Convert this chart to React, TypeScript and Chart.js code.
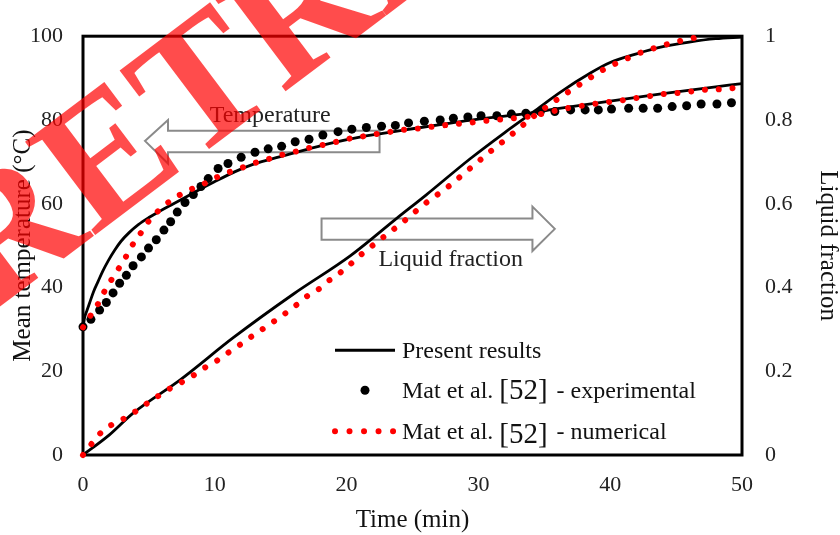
import React, { useEffect, useRef } from 'react';
import { Chart, registerables } from 'chart.js';

Chart.register(...registerables);

// ---------- data ----------
const xTicks = [0, 10, 20, 30, 40, 50];
const tempTicks = [0, 20, 40, 60, 80, 100];
const fracTicks = [0, 0.2, 0.4, 0.6, 0.8, 1];

// Present results – mean temperature (°C)
const presentTempTime = [0, 0.1, 0.3, 0.5, 0.8, 1.14, 1.5, 1.9, 2.4, 2.9, 3.5, 4.2, 5, 5.7, 6.5, 7.4, 8.5, 9.9, 11.5, 13, 14.9, 17, 19, 21, 22.5, 25, 28, 30, 32, 34, 36, 40, 44, 48, 50];
const presentTemp = [30, 32.5, 34.5, 36.3, 39, 41.4, 43.9, 46.3, 48.9, 51.1, 53.1, 55.0, 56.7, 58.0, 59.4, 60.9, 62.8, 65.1, 67.6, 69.5, 71.2, 73, 74.6, 75.9, 76.7, 77.9, 79.3, 80.2, 80.9, 81.7, 82.7, 84.5, 86.3, 87.9, 88.7];

// Present results – liquid fraction
const presentFracTime = [0, 2, 3.8, 7.4, 11.4, 16, 20.3, 23.8, 26, 29.4, 32, 34.2, 36.2, 38.5, 40, 42, 44, 46, 48, 50];
const presentFrac = [0, 0.048, 0.1, 0.18, 0.28, 0.385, 0.476, 0.565, 0.62, 0.708, 0.77, 0.82, 0.866, 0.912, 0.937, 0.958, 0.975, 0.986, 0.994, 0.998];

// Mat et al. [52] – experimental temperature
const expTime = [0, 0.6, 1.26, 1.77, 2.28, 2.78, 3.29, 3.8, 4.43, 4.97, 5.56, 6.14, 6.65, 7.15, 7.74, 8.37, 8.95, 9.5, 10.25, 11, 12, 13.05, 14.05, 15.07, 16.1, 17.15, 18.2, 19.35, 20.4, 21.5, 22.65, 23.7, 24.7, 25.9, 27.1, 28.1, 29.2, 30.2, 31.4, 32.5, 33.6, 34.7, 35.8, 37, 38.1, 39.1, 40.1, 41.4, 42.5, 43.6, 44.7, 45.8, 46.9, 48.1, 49.2];
const expTemp = [30.6, 32.4, 34.6, 36.4, 38.7, 41, 42.9, 45.2, 47.3, 49.4, 51.4, 53.7, 55.7, 58, 60.3, 62.2, 64.1, 66, 68.4, 69.6, 71.1, 72.3, 73.1, 73.7, 74.8, 75.4, 76.4, 77.2, 77.8, 78.2, 78.5, 78.7, 79.3, 79.7, 80, 80.4, 80.7, 81, 81, 81.4, 81.6, 82, 82, 82.4, 82.4, 82.4, 82.6, 82.8, 82.8, 82.8, 83.2, 83.4, 83.8, 83.8, 84.1];

// Mat et al. [52] – numerical temperature
const numTempTime = [0, 0.63, 1.14, 1.6, 2.15, 2.7, 3.23, 3.7, 4.3, 4.88, 5.56, 6.3, 7.23, 8.1, 9.08, 10, 10.9, 11.9, 12.9, 13.9, 14.9, 15.96, 17, 18, 19, 20, 21.1, 22.2, 23.2, 24.2, 25.3, 26.3, 27.3, 28.5, 29.5, 30.5, 31.6, 32.6, 33.8, 35.7, 36.7, 37.7, 38.7, 39.9, 40.9, 41.9, 43, 44, 45, 46.1, 47.2, 48.2, 49.3, 50];
const numTemp = [30.5, 33.6, 36.1, 38.9, 41.8, 44.5, 47.2, 49.9, 52.6, 55.4, 57.8, 59.9, 61.9, 63.3, 64.6, 66.1, 67.3, 68.4, 69.6, 70.5, 71.5, 72.3, 73.2, 73.9, 74.6, 75.4, 76, 76.6, 77.1, 77.6, 77.9, 78.3, 78.7, 79.1, 79.4, 79.8, 80.1, 80.4, 80.8, 82.1, 82.8, 83.3, 83.8, 84.3, 84.7, 85.2, 85.7, 86.2, 86.4, 86.8, 87.2, 87.3, 87.6, 87.8];

// Mat et al. [52] – numerical liquid fraction
const numFracTime = [0, 0.66, 1.29, 2.17, 3.05, 3.94, 4.8, 5.67, 6.55, 7.5, 8.37, 9.26, 10.1, 11, 11.9, 12.7, 13.55, 14.4, 15.25, 16.1, 16.9, 17.8, 18.6, 19.5, 20.3, 21, 22.7, 24.3, 25.9, 27.6, 29.2, 30, 30.8, 31.6, 32.4, 33.2, 34, 34.8, 35.7, 36.6, 37.4, 38.3, 39.2, 40.1, 41.1, 42, 43, 44, 45, 46, 47.1];
const numFrac = [0, 0.027, 0.051, 0.072, 0.086, 0.103, 0.122, 0.14, 0.158, 0.174, 0.19, 0.209, 0.224, 0.244, 0.263, 0.281, 0.299, 0.317, 0.336, 0.356, 0.377, 0.394, 0.415, 0.435, 0.456, 0.476, 0.518, 0.557, 0.599, 0.638, 0.68, 0.701, 0.722, 0.742, 0.762, 0.783, 0.804, 0.823, 0.843, 0.862, 0.879, 0.897, 0.915, 0.93, 0.944, 0.957, 0.968, 0.978, 0.986, 0.994, 0.998];

const legendLabels = ['Present results', 'Mat et al.', '[52]', '- experimental', '- numerical'];
const arrowLabels = ['Temperature', 'Liquid fraction'];
const watermarkText = 'RETRACTED';

const SERIF = "'Liberation Serif', 'Times New Roman', serif";
const RED = '#ff0000';
const DOT_DASH = [0.01, 13.8];

const pts = (xs: number[], ys: number[]) => xs.map((x, i) => ({ x, y: ys[i] }));

// ---------- plugins ----------
const framePlugin = {
  id: 'frameAndArrows',
  beforeDatasetsDraw(chart: any) {
    const { ctx, chartArea: a, scales } = chart;
    const X = (v: number) => scales.x.getPixelForValue(v);
    const Y = (v: number) => scales.y.getPixelForValue(v);
    ctx.save();
    ctx.lineWidth = 2;
    ctx.strokeStyle = '#8a8a8a';
    ctx.fillStyle = '#ffffff';
    // Temperature arrow (pointing left)
    ctx.beginPath();
    ctx.moveTo(X(4.7), Y(75));
    ctx.lineTo(X(6.45), Y(80));
    ctx.lineTo(X(6.45), Y(77.4));
    ctx.lineTo(X(22.5), Y(77.4));
    ctx.lineTo(X(22.5), Y(72.3));
    ctx.lineTo(X(6.45), Y(72.3));
    ctx.lineTo(X(6.45), Y(69.6));
    ctx.closePath();
    ctx.fill();
    ctx.stroke();
    // Liquid fraction arrow (pointing right)
    ctx.beginPath();
    ctx.moveTo(X(35.8), Y(54));
    ctx.lineTo(X(34.1), Y(59.3));
    ctx.lineTo(X(34.1), Y(56.5));
    ctx.lineTo(X(18.1), Y(56.5));
    ctx.lineTo(X(18.1), Y(51.4));
    ctx.lineTo(X(34.1), Y(51.4));
    ctx.lineTo(X(34.1), Y(48.7));
    ctx.closePath();
    ctx.fill();
    ctx.stroke();
    ctx.fillStyle = '#222';
    ctx.font = `24px ${SERIF}`;
    ctx.textAlign = 'center';
    ctx.textBaseline = 'alphabetic';
    ctx.fillText(arrowLabels[0], X(14.2), Y(79.6));
    ctx.fillText(arrowLabels[1], X(27.9), Y(45.2));
    ctx.lineWidth = 3;
    ctx.strokeStyle = '#000';
    ctx.strokeRect(a.left, a.top, a.right - a.left, a.bottom - a.top);
    ctx.restore();
  },
};

const legendPlugin = {
  id: 'customLegend',
  afterDatasetsDraw(chart: any) {
    const { ctx, chartArea: a } = chart;
    const lx0 = a.left + 252;
    const lx1 = a.left + 312;
    const tx = a.left + 319;
    const rows = [a.top + 314, a.top + 354, a.top + 395];
    ctx.save();
    ctx.strokeStyle = '#000';
    ctx.lineWidth = 3;
    ctx.beginPath();
    ctx.moveTo(lx0, rows[0]);
    ctx.lineTo(lx1, rows[0]);
    ctx.stroke();
    ctx.fillStyle = '#000';
    ctx.beginPath();
    ctx.arc((lx0 + lx1) / 2, rows[1], 4.5, 0, Math.PI * 2);
    ctx.fill();
    ctx.strokeStyle = RED;
    ctx.lineWidth = 6;
    ctx.lineCap = 'round';
    ctx.setLineDash([0.01, 14.5]);
    ctx.beginPath();
    ctx.moveTo(lx0, rows[2]);
    ctx.lineTo(lx1, rows[2]);
    ctx.stroke();
    ctx.setLineDash([]);
    ctx.fillStyle = '#111';
    ctx.textAlign = 'left';
    ctx.textBaseline = 'alphabetic';
    ctx.font = `24px ${SERIF}`;
    ctx.fillText(legendLabels[0], tx, rows[0] + 7.5);
    const drawRef = (y: number, tail: string, drop: number) => {
      ctx.font = `24px ${SERIF}`;
      ctx.fillText(legendLabels[1], tx, y);
      let x = tx + ctx.measureText(legendLabels[1]).width + 6;
      ctx.font = `29px ${SERIF}`;
      ctx.fillText(legendLabels[2], x, y + drop);
      x += ctx.measureText(legendLabels[2]).width + 9;
      ctx.font = `24px ${SERIF}`;
      ctx.fillText(tail, x, y);
    };
    drawRef(rows[1] + 7.5, legendLabels[3], 1);
    drawRef(rows[2] + 7.5, legendLabels[4], 4);
    ctx.restore();
  },
};

const watermarkPlugin = {
  id: 'watermark',
  afterDraw(chart: any) {
    const { ctx } = chart;
    ctx.save();
    ctx.translate(-10, 314);
    ctx.rotate((-37 * Math.PI) / 180);
    ctx.font = `bold 178px ${SERIF}`;
    ctx.fillStyle = 'rgba(255, 0, 0, 0.7)';
    ctx.textAlign = 'left';
    ctx.textBaseline = 'alphabetic';
    ctx.fillText(watermarkText, 0, 0);
    ctx.restore();
  },
};

const fmtFrac = (v: any) => String(Number(Number(v).toFixed(1)));

export default function App() {
  const ref = useRef<HTMLCanvasElement | null>(null);

  useEffect(() => {
    if (!ref.current) return;
    const tickFont = { family: SERIF, size: 22 };
    const titleFont = { family: SERIF, size: 25, lineHeight: 1 };
    const chart = new Chart(ref.current, {
      type: 'line',
      data: {
        datasets: [
          {
            label: 'Mat et al. [52] - numerical (temperature)',
            data: pts(numTempTime, numTemp),
            yAxisID: 'y',
            borderColor: RED,
            borderWidth: 6,
            borderCapStyle: 'round',
            borderDash: DOT_DASH,
            pointRadius: 0,
            cubicInterpolationMode: 'monotone',
            clip: false,
          },
          {
            label: 'Mat et al. [52] - numerical (liquid fraction)',
            data: pts(numFracTime, numFrac),
            yAxisID: 'y1',
            borderColor: RED,
            borderWidth: 6,
            borderCapStyle: 'round',
            borderDash: DOT_DASH,
            pointRadius: 0,
            cubicInterpolationMode: 'monotone',
            clip: false,
          },
          {
            label: 'Present results (temperature)',
            data: pts(presentTempTime, presentTemp),
            yAxisID: 'y',
            borderColor: '#000',
            borderWidth: 2.8,
            pointRadius: 0,
            cubicInterpolationMode: 'monotone',
            clip: false,
          },
          {
            label: 'Present results (liquid fraction)',
            data: pts(presentFracTime, presentFrac),
            yAxisID: 'y1',
            borderColor: '#000',
            borderWidth: 2.8,
            pointRadius: 0,
            cubicInterpolationMode: 'monotone',
            clip: false,
          },
          {
            label: 'Mat et al. [52] - experimental',
            data: pts(expTime, expTemp),
            yAxisID: 'y',
            showLine: false,
            pointRadius: 4.5,
            pointBackgroundColor: '#000',
            pointBorderWidth: 0,
            clip: false,
          },
        ],
      } as any,
      options: {
        responsive: false,
        animation: false,
        events: [],
        layout: { padding: { top: 24, left: 0, right: 0, bottom: 0 } },
        plugins: { legend: { display: false }, tooltip: { enabled: false } },
        scales: {
          x: {
            type: 'linear',
            min: 0,
            max: 50,
            afterFit: (s: any) => { s.height = 80; },
            afterBuildTicks: (s: any) => { s.ticks = xTicks.map((v) => ({ value: v })); },
            grid: { display: false, drawTicks: false },
            border: { display: false },
            ticks: { font: tickFont, color: '#222', padding: 17 },
            title: { display: true, text: 'Time (min)', font: titleFont, color: '#111', padding: { top: 0, bottom: 2 } },
          },
          y: {
            type: 'linear',
            position: 'left',
            min: 0,
            max: 100,
            afterFit: (s: any) => { s.width = 83; },
            afterBuildTicks: (s: any) => { s.ticks = tempTicks.map((v) => ({ value: v })); },
            grid: { display: false, drawTicks: false },
            border: { display: false },
            ticks: { font: tickFont, color: '#222', padding: 20 },
            title: { display: true, text: 'Mean temperature (°C)', font: titleFont, color: '#111', padding: { top: 11, bottom: 0 } },
          },
          y1: {
            type: 'linear',
            position: 'right',
            min: 0,
            max: 1,
            afterFit: (s: any) => { s.width = 98; },
            afterBuildTicks: (s: any) => { s.ticks = fracTicks.map((v) => ({ value: v })); },
            grid: { display: false, drawTicks: false },
            border: { display: false },
            ticks: { font: tickFont, color: '#222', padding: 23, callback: fmtFrac },
            title: { display: true, text: 'Liquid fraction', font: titleFont, color: '#111', padding: { top: 0, bottom: 0 } },
          },
        },
      } as any,
      plugins: [framePlugin, legendPlugin, watermarkPlugin],
    });
    return () => chart.destroy();
  }, []);

  return (
    <div style={{ position: 'absolute', left: 0, top: 0, width: 840, height: 535, background: '#fff' }}>
      <canvas ref={ref} width={840} height={535} style={{ display: 'block' }} />
    </div>
  );
}
